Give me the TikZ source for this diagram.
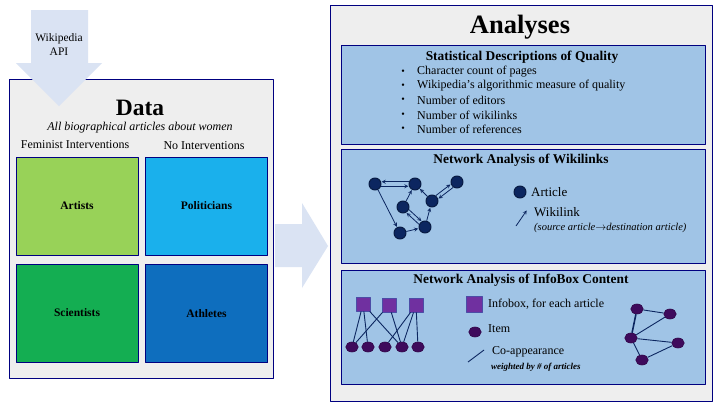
\documentclass[tikz,border=0pt]{standalone}
\usepackage{fontspec}
\setmainfont{Liberation Serif}
\usepackage{xcolor}
\usetikzlibrary{shapes.geometric}
\definecolor{panelgray}{RGB}{238,238,238}
\definecolor{navyline}{RGB}{0,0,128}
\definecolor{arrowblue}{RGB}{218,227,243}
\definecolor{artistgreen}{RGB}{152,210,88}
\definecolor{politicsblue}{RGB}{26,176,236}
\definecolor{sciencegreen}{RGB}{20,174,82}
\definecolor{athleteblue}{RGB}{14,110,190}
\definecolor{paleblue}{RGB}{160,196,230}
\definecolor{articleblue}{RGB}{12,38,96}
\definecolor{itempurple}{RGB}{62,10,92}
\definecolor{boxpurple}{RGB}{112,48,160}

\begin{document}
\begin{tikzpicture}[x=1pt, y=-1pt, line join=bevel,
        panelbox/.style={shape=rectangle, fill=panelgray, draw=navyline, line width=1pt, inner sep=0pt},
        groupbox/.style={shape=rectangle, draw=navyline, line width=0.9pt, inner sep=0pt, minimum width=122pt, minimum height=98pt, font=\fontsize{11.5}{13}\selectfont\bfseries},
        methodbox/.style={shape=rectangle, fill=paleblue, draw=navyline, line width=0.9pt, inner sep=0pt, minimum width=364pt, minimum height=114pt},
        methodtitle/.style={font=\fontsize{13.4}{15}\selectfont\bfseries},
        articlenode/.style={shape=circle, fill=articleblue, draw=articleblue!70!black, line width=1pt, minimum size=12pt, inner sep=0pt},
        itemnode/.style={shape=ellipse, fill=itempurple, draw=itempurple!80!black, line width=0.6pt, minimum width=12.5pt, minimum height=10pt, inner sep=0pt},
        infonode/.style={shape=rectangle, fill=boxpurple, draw=navyline!70, line width=0.8pt, minimum size=14pt, inner sep=0pt},
        linkarrow/.style={-stealth, draw=articleblue, line width=0.8pt, shorten >=0.5pt},
        coline/.style={draw=articleblue, line width=0.9pt},
        legendtext/.style={anchor=west, inner sep=0pt, font=\fontsize{13}{15}\selectfont}]
        \useasboundingbox (0,0) rectangle (720,405);
        \fill[white] (0,0) rectangle (720,405);
        % Data panel
        \node[panelbox, minimum width=264pt, minimum height=299pt] (data) at (141,228.5) {};
        \node[font=\fontsize{23.5}{26}\selectfont\bfseries] (datatitle) at (140,108) {Data};
        \node[font=\fontsize{12}{14}\selectfont\itshape] (datasub) at (140,128) {All biographical articles about women};
        \node[font=\fontsize{12}{14}\selectfont] (feminist) at (75,145) {Feminist Interventions};
        \node[font=\fontsize{12}{14}\selectfont] (nointerv) at (204,146) {No Interventions};
        \node[groupbox, fill=artistgreen] (artists) at (77,206) {Artists};
        \node[groupbox, fill=politicsblue] (politicians) at (206.5,206) {Politicians};
        \node[groupbox, fill=sciencegreen] (scientists) at (77,313) {Scientists};
        \node[groupbox, fill=athleteblue] (athletes) at (206.5,313.5) {Athletes};
        % Wikipedia API arrow
        \fill[arrowblue] (31,10) -- (88,10) -- (88,63) -- (102,63) -- (59,106) -- (16,63) -- (31,63) -- cycle;
        \node[align=center, font=\fontsize{11.5}{14}\selectfont] (api) at (59,45) {Wikipedia\\API};
        % Arrow between panels
        \fill[arrowblue] (275,224) -- (302,224) -- (302,203) -- (328,246) -- (302,288) -- (302,267) -- (275,267) -- cycle;
        % Analyses panel
        \node[panelbox, minimum width=382pt, minimum height=396pt] (analyses) at (521,203) {};
        \node[font=\fontsize{26.5}{30}\selectfont\bfseries] (antitle) at (520,27) {Analyses};
        \node[methodbox, minimum height=99pt] (stats) at (523,94.5) {};
        \node[methodbox] (wikilinks) at (523,206) {};
        \node[methodbox] (infobox) at (523,327) {};
        % Statistical descriptions
        \node[methodtitle] (statstitle) at (522,57) {Statistical Descriptions of Quality};
        \foreach \y/\ytext in {72/Character count of pages, 86/Wikipedia’s algorithmic measure of quality, 100/Number of editors, 115/Number of wikilinks, 129/Number of references} {
          \node[anchor=center, inner sep=0pt, font=\fontsize{10}{12}\selectfont] at (403,\y) {\textbullet};
          \node[anchor=west, inner sep=0pt, font=\fontsize{12}{13}\selectfont] at (417,\y) {\ytext};
        }
        % Network of wikilinks
        \node[methodtitle] (linkstitle) at (521,160) {Network Analysis of Wikilinks};
        \node[articlenode] (a1) at (375,184) {};
        \node[articlenode] (a2) at (415,184) {};
        \node[articlenode] (a3) at (457,182) {};
        \node[articlenode] (a4) at (432,201) {};
        \node[articlenode] (a5) at (403,207) {};
        \node[articlenode] (a6) at (425,227) {};
        \node[articlenode] (a7) at (400,233) {};
        \foreach \from/\to/\fa/\ta in {a1/a2/340/200, a2/a1/160/20, a4/a3/55/199, a3/a4/235/19, a5/a6/336/120, a6/a5/156/300} {
          \draw[linkarrow] (\from.\fa) -- (\to.\ta);
        }
        \foreach \from/\to in {a1/a7, a7/a6, a6/a4, a4/a2, a5/a2} {
          \draw[linkarrow] (\from) -- (\to);
        }
        \node[articlenode] (articlekey) at (520,192) {};
        \node[legendtext] (articletext) at (531,192) {Article};
        \coordinate (wlfrom) at (516,226);
        \coordinate (wlto) at (527,210);
        \draw[linkarrow] (wlfrom) -- (wlto);
        \node[legendtext] (wikilinktext) at (534,212) {Wikilink};
        \node[anchor=west, inner sep=0pt, font=\fontsize{10.5}{12}\selectfont\itshape] (wikilinknote) at (534,228) {(source article$\rightarrow$destination article)};
        % Network of infobox content
        \node[methodtitle] (infotitle) at (521,280) {Network Analysis of InfoBox Content};
        \node[infonode] (s1) at (363,304) {};
        \node[infonode] (s2) at (389,305) {};
        \node[infonode] (s3) at (416,305) {};
        \foreach \n/\x in {1/352, 2/368, 3/385, 4/402, 5/418} {
          \node[itemnode] (i\n) at (\x,347) {};
        }
        \foreach \from/\to in {s1/i1, s1/i2, s1/i4, s2/i1, s2/i4, s3/i3, s3/i4, s3/i5} {
          \draw[coline] (\from) -- (\to);
        }
        \node[infonode, minimum size=16pt] (infokey) at (474,304) {};
        \node[legendtext, font=\fontsize{12}{14}\selectfont] (infotext) at (488,304) {Infobox, for each article};
        \node[itemnode] (itemkey) at (475,332) {};
        \node[legendtext, font=\fontsize{12}{14}\selectfont] (itemtext) at (488,329) {Item};
        \coordinate (cofrom) at (468,362);
        \coordinate (coto) at (484,350);
        \draw[coline] (cofrom) -- (coto);
        \node[legendtext, font=\fontsize{12}{14}\selectfont] (cotext) at (492,352) {Co-appearance};
        \node[anchor=west, inner sep=0pt, font=\fontsize{9}{10}\selectfont\bfseries\itshape] (conote) at (491,367) {weighted by \# of articles};
        \node[itemnode] (r1) at (637,309) {};
        \node[itemnode] (r2) at (670,314) {};
        \node[itemnode] (r3) at (631,338) {};
        \node[itemnode] (r4) at (678,343) {};
        \node[itemnode] (r5) at (642,360) {};
        \draw[coline, line width=1.6pt] (r1) -- (r3);
        \foreach \from/\to in {r1/r2, r3/r2, r3/r4, r3/r5, r5/r4} {
          \draw[coline] (\from) -- (\to);
        }
\end{tikzpicture}
\end{document}
